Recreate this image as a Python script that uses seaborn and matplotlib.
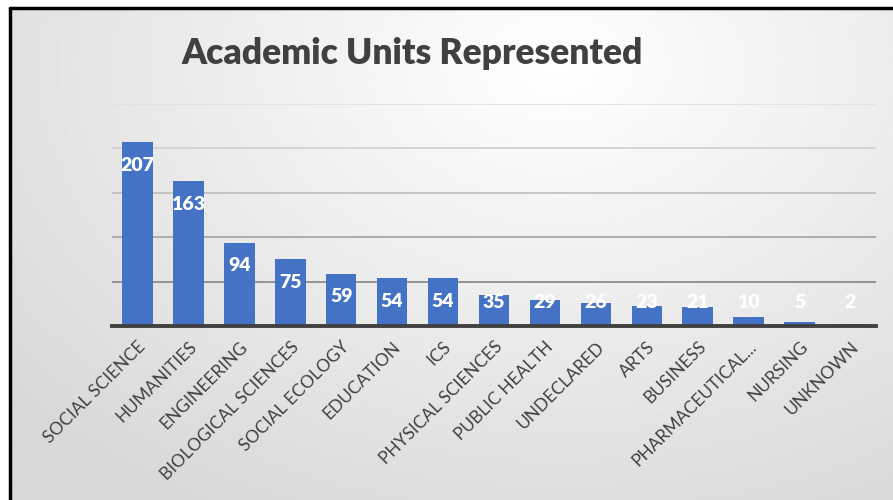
import numpy as np
import pandas as pd
import matplotlib
matplotlib.use('Agg')
import matplotlib.pyplot as plt
from matplotlib.lines import Line2D
import seaborn as sns

# Chart data
units = ['SOCIAL SCIENCE', 'HUMANITIES', 'ENGINEERING', 'BIOLOGICAL SCIENCES',
         'SOCIAL ECOLOGY', 'EDUCATION', 'ICS', 'PHYSICAL SCIENCES', 'PUBLIC HEALTH',
         'UNDECLARED', 'ARTS', 'BUSINESS', 'PHARMACEUTICAL...', 'NURSING', 'UNKNOWN']
counts = [207, 163, 94, 75, 59, 54, 54, 35, 29, 26, 23, 21, 10, 5, 2]
grid_vals = [0, 50, 100, 150, 200, 250]

df = pd.DataFrame({'unit': units, 'count': counts})

sns.set_theme(style='white')
plt.rcParams['font.family'] = ['Lato', 'DejaVu Sans']

fig = plt.figure(figsize=(8.93, 5), dpi=100, facecolor='white')

# Background panel with soft radial gradient
bg = fig.add_axes([10 / 893, 0, 1 - 10 / 893, 1 - 8 / 500])
yy, xx = np.mgrid[0:1:300j, 0:1:500j]
r = np.sqrt(((xx - 0.62) / 0.75) ** 2 + ((yy - 0.12) / 0.95) ** 2)
shade = np.clip(1.0 - 0.14 * r, 0.85, 1.0)
bg.imshow(shade, cmap='gray', vmin=0, vmax=1, aspect='auto', extent=(0, 1, 1, 0))
bg.axis('off')

# black frame on top and left
fig.add_artist(Line2D([9.5 / 893, 9.5 / 893], [0, 1 - 7.5 / 500], color='black',
                      linewidth=2.5, transform=fig.transFigure))
fig.add_artist(Line2D([9.5 / 893, 1], [1 - 7.5 / 500, 1 - 7.5 / 500], color='black',
                      linewidth=2.5, transform=fig.transFigure))

# Main plot
ax = fig.add_axes([112 / 893, 1 - 326 / 500, (876 - 112) / 893, (326 - 104) / 500])
ax.set_facecolor('none')
sns.barplot(data=df, x='unit', y='count', color='#4472C4', saturation=1,
            width=0.6, linewidth=0, ax=ax, zorder=3)
ax.set_ylim(0, 250)
ax.set_yticks(grid_vals)
ax.set_yticklabels([])
ax.tick_params(axis='both', length=0)
ax.grid(axis='y', linewidth=1.3, zorder=0)
grid_colors = ['#404040', '#8c8c8c', '#a8a8a8', '#c0c0c0', '#d2d2d2', '#e2e2e2']
for gl, c in zip(ax.get_ygridlines(), grid_colors):
    gl.set_color(c)
for side in ['top', 'right', 'left']:
    ax.spines[side].set_visible(False)
ax.spines['bottom'].set_color('#404040')
ax.spines['bottom'].set_linewidth(2.8)
ax.spines['bottom'].set_zorder(4)
ax.set_xlabel('')
ax.set_ylabel('')

ax.set_xticks(range(len(units)))
ax.set_xticklabels(units, rotation=45, ha='right', va='top', rotation_mode='anchor',
                   fontsize=12.5, color='#404040')
ax.tick_params(axis='x', pad=9)

for i, v in enumerate(counts):
    ax.text(i, max(v - 26, 26), str(v), ha='center', va='center', color='white',
            fontsize=14, fontweight='heavy', zorder=5)

fig.text(412 / 893, 1 - 54 / 500, 'Academic Units Represented', ha='center', va='center',
         fontsize=25.5, fontweight='heavy', color='#404040')

fig.savefig('out.png', dpi=100, facecolor='white')
